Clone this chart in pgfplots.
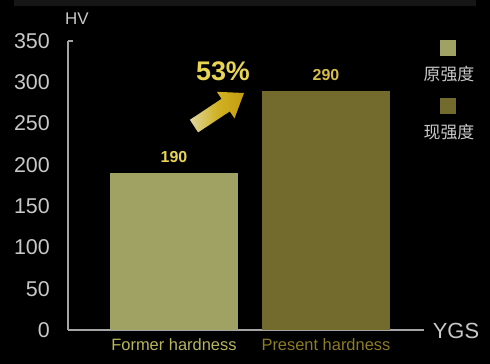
\documentclass[border=0pt]{standalone}
\usepackage{fontspec}
\setmainfont{Liberation Sans}
\newfontfamily\cjk{Noto Sans CJK SC}
\usepackage{pgfplots}
\pgfplotsset{compat=1.18}
\definecolor{formerc}{RGB}{160,162,100}
\definecolor{presentc}{RGB}{115,107,45}
\definecolor{formerlab}{RGB}{184,182,92}
\definecolor{presentlab}{RGB}{140,124,36}
\definecolor{val1}{RGB}{232,212,84}
\definecolor{val2}{RGB}{214,188,72}
\definecolor{axisgray}{RGB}{165,165,165}
\definecolor{ticktext}{RGB}{200,200,200}
\definecolor{topstrip}{RGB}{22,22,22}
\definecolor{arrowgold}{RGB}{196,156,14}
\definecolor{arrowmid}{RGB}{208,178,36}
\definecolor{arrowpale}{RGB}{222,215,160}
\begin{document}
\begin{tikzpicture}
\path[use as bounding box, fill=black] (0,0) rectangle (490bp,364bp);
\fill[topstrip] (14bp,358bp) rectangle (476bp,364bp);
\begin{axis}[
  anchor=south west, at={(68bp,34bp)},
  width=356bp, height=289bp, scale only axis,
  xmin=-0.697, xmax=1.645, ymin=0, ymax=350,
  axis x line*=bottom, axis y line*=left,
  axis line style={draw=axisgray, line width=1.3bp},
  major tick length=0pt,
  /pgf/number format/assume math mode=true,
  ytick={0,50,...,350},
  yticklabel style={anchor=east, inner sep=0pt, xshift=-18bp, text=ticktext, font=\fontsize{21.5}{21.5}\selectfont},
  xtick={0,1},
  xticklabels={\textcolor{formerlab}{Former hardness},\textcolor{presentlab}{Present hardness}},
  xticklabel style={anchor=north, inner sep=0pt, yshift=-8bp, font=\fontsize{16.5}{16.5}\selectfont},
  ybar, bar width=0.842, bar shift=0pt,
  nodes near coords,
  nodes near coords style={anchor=south, inner sep=0pt, yshift=10bp, font=\bfseries\fontsize{16}{16}\selectfont},
  clip=false,
]
\addplot[fill=formerc, draw=none, nodes near coords style={text=val1}] coordinates {(0,190)};
\addplot[fill=presentc, draw=none, nodes near coords style={text=val2}] coordinates {(1,290)};
\end{axis}
\begin{scope}[x=1bp,y=1bp]
\draw[axisgray, line width=1.3bp] (68,323) -- (73,323);
\node[text=ticktext, font=\fontsize{17}{17}\selectfont] at (77,345) {HV};
\node[text=ticktext, font=\fontsize{22}{22}\selectfont] at (456,33) {YGS};
% legend
\fill[formerc] (440,308) rectangle (456,324);
\node[text=ticktext, font=\cjk\fontsize{17}{17}\selectfont] at (449,290) {原强度};
\fill[presentc] (440,250) rectangle (456,266);
\node[text=ticktext, font=\cjk\fontsize{17}{17}\selectfont] at (449,232) {现强度};
% arrow
\shade[left color=arrowpale, right color=arrowgold, middle color=arrowmid]
  (198.1,231.6) -- (229.8,252.6) -- (234.5,245.6) -- (244,271) -- (216.9,272.2) -- (221.6,265.2) -- (189.9,244.2) -- cycle;
\node[text=val1, font=\bfseries\fontsize{27}{27}\selectfont] at (223,293) {53\%};
\end{scope}
\end{tikzpicture}
\end{document}
